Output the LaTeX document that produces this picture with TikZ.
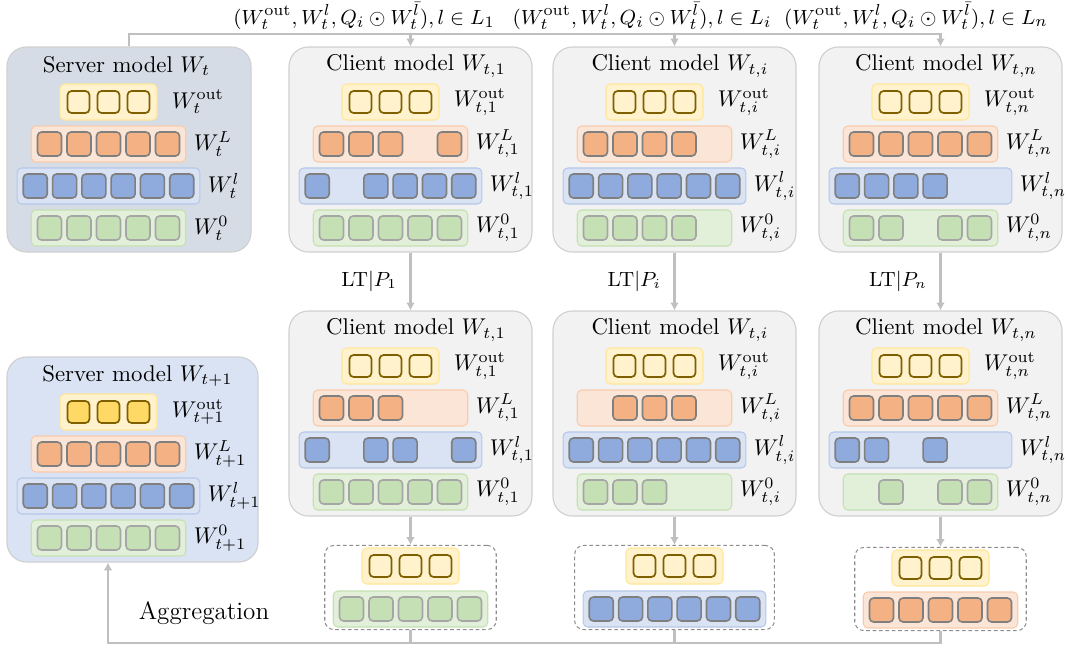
\documentclass[tikz,border=0pt]{standalone}
\usetikzlibrary{arrows.meta,fit,calc}
\definecolor{servfill}{HTML}{D6DCE5}
\definecolor{servBfill}{HTML}{DAE3F3}
\definecolor{clifill}{HTML}{F2F2F2}
\definecolor{boxline}{HTML}{D0D0D0}
\definecolor{yelfill}{HTML}{FFF2CC}
\definecolor{yelline}{HTML}{FFE699}
\definecolor{yelsq}{HTML}{7F6000}
\definecolor{yelsat}{HTML}{FFD966}
\definecolor{orgfill}{HTML}{FBE5D6}
\definecolor{orgline}{HTML}{F8CBAD}
\definecolor{orgsq}{HTML}{F4B183}
\definecolor{blufill}{HTML}{DAE3F3}
\definecolor{bluline}{HTML}{B4C7E7}
\definecolor{blusq}{HTML}{8FAADC}
\definecolor{grnfill}{HTML}{E2F0D9}
\definecolor{grnline}{HTML}{C5E0B4}
\definecolor{grnsq}{HTML}{C5E0B4}
\definecolor{sqgray}{HTML}{7F7F7F}
\definecolor{sqlight}{HTML}{A6A6A6}
\definecolor{lineg}{HTML}{BFBFBF}
\definecolor{dashgray}{HTML}{8C8C8C}
\def\U{0.4386pt}
\tikzset{
  box/.style={draw=boxline, line width=0.5pt, rounded corners=8.5pt, inner sep=0pt, minimum width={243*\U}, minimum height={205*\U}},
  servbox/.style={box, fill=servfill},
  servboxB/.style={box, fill=servBfill},
  clibox/.style={box, fill=clifill},
  grpbase/.style={rounded corners=2pt, line width=0.45pt, inner sep=0pt, minimum height={36*\U}},
  grpyel/.style={grpbase, draw=yelline, fill=yelfill},
  grpyelS/.style={grpyel},
  grporg/.style={grpbase, draw=orgline, fill=orgfill},
  grpblu/.style={grpbase, draw=bluline, fill=blufill},
  grpgrn/.style={grpbase, draw=grnline, fill=grnfill},
  sqbase/.style={rounded corners=1.8pt, inner sep=0pt, minimum size={24*\U}, line width=0.7pt},
  sqyel/.style={sqbase, minimum size={22*\U}, draw=yelsq, fill=yelfill, line width=0.75pt},
  sqyelS/.style={sqyel, fill=yelsat},
  sqorg/.style={sqbase, draw=sqgray, fill=orgsq},
  sqblu/.style={sqbase, draw=sqgray, fill=blusq},
  sqgrn/.style={sqbase, draw=sqlight, fill=grnsq},
  lbl/.style={anchor=west, inner sep=0pt},
  ttl/.style={inner sep=0pt},
  toplbl/.style={inner sep=1pt, font=\fontsize{9.5}{11}\selectfont},
  ltlbl/.style={text=black, font=\fontsize{9}{11}\selectfont},
  conn/.style={draw=lineg, line width=1.3pt},
  arr/.style={conn, -{Latex[length=3.4pt,width=3.8pt]}},
  dashbox/.style={draw=dashgray, dash pattern=on 1.6pt off 1.2pt, line width=0.45pt, rounded corners=4pt, inner xsep=3.5pt, inner ysep=0.9pt},
}
% #1 name, #2 cx, #3 cy, #4 slots, #5 present list, #6 kind, #7 pitch
\newcommand\mkgroup[7]{%
  \node[grp#6, minimum width={(#4*#7+7)*\U}] (#1) at ({#2},{#3}) {};
  \foreach \k in {#5} {
    \node[sq#6] (#1-\k) at ({#2+(\k-(#4+1)/2)*#7},{#3}) {};
  }
}
% #1 name, #2 left, #3 top, #4 yellow kind, #5 orange, #6 blue, #7 green, #8 subscript
\newcommand\layers[8]{%
  \mkgroup{#1y}{#2+101.5}{#3+55}{3}{1,2,3}{#4}{30}
  \mkgroup{#1o}{#2+101.5}{#3+97}{5}{#5}{org}{29.5}
  \mkgroup{#1b}{#2+101.5}{#3+139}{6}{#6}{blu}{29.3}
  \mkgroup{#1g}{#2+101.5}{#3+181}{5}{#7}{grn}{29.5}
  \node[lbl] (#1yl) at ([xshift=6.1pt]#1y.east) {$W^{\mathrm{out}}_{#8}$};
  \node[lbl] (#1ol) at ([xshift=3.1pt]#1o.east) {$W^{L}_{#8}$};
  \node[lbl] (#1bl) at ([xshift=3.1pt]#1b.east) {$W^{l}_{#8}$};
  \node[lbl] (#1gl) at ([xshift=3.1pt]#1g.east) {$W^{0}_{#8}$};
}
\begin{document}
\begin{tikzpicture}[x=0.4386pt, y=-0.4386pt]
\useasboundingbox (0,0) rectangle (1067,649);

% ---------- top row ----------
\node[servbox, minimum width={244*\U}] (st) at (129,149.5) {};
\node[ttl] (st-t) at (126.5,66) {Server model $W_t$};
\layers{st}{7}{47}{yel}{1,2,3,4,5}{1,2,3,4,5,6}{1,2,3,4,5}{t}

\node[clibox] (c1) at (410.5,149.5) {};
\node[ttl] (c1-t) at (416,66) {Client model $W_{t,1}$};
\layers{c1}{289}{47}{yel}{1,2,3,5}{1,3,4,5,6}{1,2,3,4,5}{t,1}

\node[clibox] (ci) at (674.5,149.5) {};
\node[ttl] (ci-t) at (680,66) {Client model $W_{t,i}$};
\layers{ci}{553}{47}{yel}{1,2,3,4}{1,2,3,4,5,6}{1,2,3,4}{t,i}

\node[clibox] (cn) at (940.5,149.5) {};
\node[ttl] (cn-t) at (946,66) {Client model $W_{t,n}$};
\layers{cn}{819}{47}{yel}{1,2,3,4,5}{1,2,3,4}{1,2,4,5}{t,n}

% ---------- bottom row ----------
\node[servboxB, minimum width={251*\U}] (sb) at (132.5,459.5) {};
\node[ttl] (sb-t) at (137.5,376) {Server model $W_{t+1}$};
\layers{sb}{7}{357}{yelS}{1,2,3,4,5}{1,2,3,4,5,6}{1,2,3,4,5}{t+1}

\node[clibox] (b1) at (410.5,413.5) {};
\node[ttl] (b1-t) at (416,330) {Client model $W_{t,1}$};
\layers{b1}{289}{311}{yel}{1,2,3}{1,3,4,6}{1,2,3,4,5}{t,1}

\node[clibox] (bi) at (674.5,413.5) {};
\node[ttl] (bi-t) at (680,330) {Client model $W_{t,i}$};
\layers{bi}{553}{311}{yel}{2,3,4}{1,2,3,4,5,6}{1,2,3}{t,i}

\node[clibox] (bn) at (940.5,413.5) {};
\node[ttl] (bn-t) at (946,330) {Client model $W_{t,n}$};
\layers{bn}{819}{311}{yel}{1,2,3,4,5}{1,2,4}{2,4,5}{t,n}

% ---------- uploaded parts ----------
\mkgroup{d1y}{410.5}{566}{3}{1,2,3}{yel}{30}
\mkgroup{d1g}{410.5}{609}{5}{1,2,3,4,5}{grn}{29.5}
\node[dashbox, fit=(d1y)(d1g)] (d1) {};

\mkgroup{diy}{674.5}{566}{3}{1,2,3}{yel}{30}
\mkgroup{dib}{674.5}{609}{6}{1,2,3,4,5,6}{blu}{29.3}
\node[dashbox, fit=(diy)(dib)] (di) {};

\mkgroup{dny}{940.5}{568}{3}{1,2,3}{yel}{30}
\mkgroup{dno}{940.5}{610}{5}{1,2,3,4,5}{org}{29.5}
\node[dashbox, fit=(dny)(dno)] (dn) {};

% ---------- texts ----------
\node[toplbl] (lab1) at (364,16) {$(W_t^{\mathrm{out}}, W_t^{l}, Q_i\odot W_t^{\bar{l}}), l\in L_1$};
\node[toplbl] (lab2) at (642,16) {$(W_t^{\mathrm{out}}, W_t^{l}, Q_i\odot W_t^{\bar{l}}), l\in L_i$};
\node[toplbl] (lab3) at (916,16) {$(W_t^{\mathrm{out}}, W_t^{l}, Q_i\odot W_t^{\bar{l}}), l\in L_n$};
\node[font=\fontsize{11}{13}\selectfont] (agg) at (204,613) {Aggregation};

% ---------- connectors ----------
\coordinate (topy) at (0,34);
\draw[arr] (st.north) |- (cn.north |- topy) -- (cn.north);
\draw[arr] (c1.north |- topy) -- (c1.north);
\draw[arr] (ci.north |- topy) -- (ci.north);

\draw[arr] (c1.south) -- (b1.north) node[midway, left=2pt, ltlbl] {$\mathrm{LT}|P_1$};
\draw[arr] (ci.south) -- (bi.north) node[midway, left=2pt, ltlbl] {$\mathrm{LT}|P_i$};
\draw[arr] (cn.south) -- (bn.north) node[midway, left=2pt, ltlbl] {$\mathrm{LT}|P_n$};

\draw[arr] (b1.south) -- (b1.south |- d1.north);
\draw[arr] (bi.south) -- (bi.south |- di.north);
\draw[arr] (bn.south) -- (bn.south |- dn.north);

\coordinate (aggL) at (108,643);
\draw[arr] (dn.south) |- (aggL) -- (aggL |- sb.south);
\draw[conn] (d1.south) -- (d1.south |- aggL);
\draw[conn] (di.south) -- (di.south |- aggL);
\end{tikzpicture}
\end{document}
